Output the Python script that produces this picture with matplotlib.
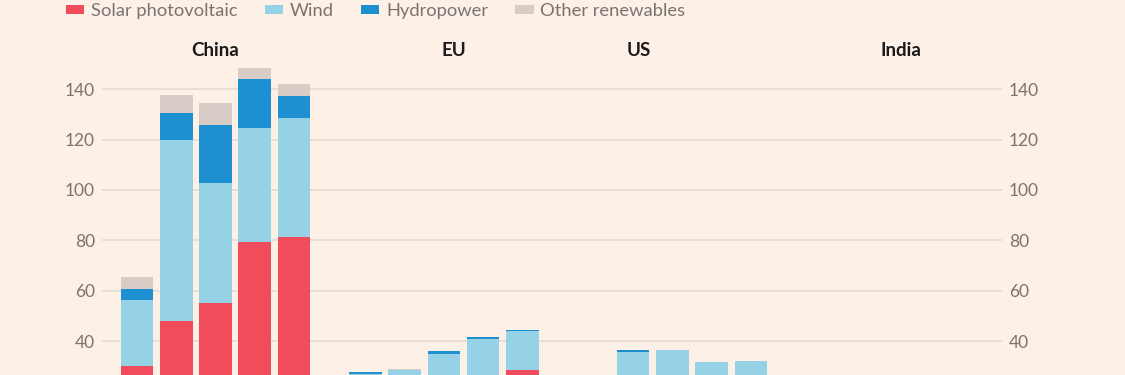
import numpy as np
import matplotlib
matplotlib.use("Agg")
import matplotlib.pyplot as plt

plt.rcParams['font.family'] = ['Lato', 'DejaVu Sans']

# Data (stacked segments per year, 5 bars per region)
regions = ["China", "EU", "US", "India"]
solar = {"China": [30.1, 48.1, 55.0, 79.2, 81.2],
         "EU":    [15.0, 17.0, 21.0, 25.0, 28.4],
         "US":    [10.0, 15.0, 13.0, 12.0, 13.0],
         "India": [8.0, 10.0, 12.0, 14.0, 15.0]}
wind = {"China": [26.2, 71.8, 47.6, 45.3, 47.3],
        "EU":    [12.0, 11.5, 13.7, 15.6, 15.4],
        "US":    [25.7, 21.4, 18.7, 20.2, 11.0],
        "India": [2.0, 1.5, 1.5, 2.0, 2.0]}
hydro = {"China": [4.2, 10.6, 23.2, 19.5, 8.9],
         "EU":    [0.6, 0.0, 1.3, 0.9, 0.4],
         "US":    [0.8, 0.0, 0.0, 0.0, 0.5],
         "India": [0.5, 0.5, 0.5, 0.5, 0.5]}
other = {"China": [4.8, 7.2, 8.9, 4.6, 4.5],
         "EU":    [0.0, 0.3, 0.0, 0.0, 0.2],
         "US":    [0.0, 0.0, 0.0, 0.0, 0.3],
         "India": [0.3, 0.3, 0.3, 0.3, 0.3]}
series = ["Solar photovoltaic", "Wind", "Hydropower", "Other renewables"]
colors = ["#F04C5C", "#96D2E6", "#1E8FD0", "#D8CCC6"]

bg = "#FDF0E6"
W, H = 1125, 375
fig = plt.figure(figsize=(W / 100, H / 100), dpi=100, facecolor=bg)

# axes box in pixels: x 102..1002, y from figure bottom up to y=60
ax = fig.add_axes([102 / W, 0, 900 / W, 315 / H], facecolor=bg)

# layout of groups (in bar slots)
group_start = {"China": 0.0, "EU": 5.82, "US": 12.64, "India": 17.6}
title_x = {"China": 215, "EU": 454, "US": 639, "India": 901}

handles = None
for reg in regions:
    x = group_start[reg] + np.arange(5)
    bottom = np.zeros(5)
    hs = []
    for vals, c in zip([solar[reg], wind[reg], hydro[reg], other[reg]], colors):
        v = np.array(vals)
        b = ax.bar(x, v, bottom=bottom, width=0.83, color=c, linewidth=0, zorder=3)
        hs.append(b)
        bottom += v
    if handles is None:
        handles = hs
    fig.text(title_x[reg] / W, 1 - 51 / H, reg, ha="center", va="center",
             fontsize=13.5, fontweight="bold", color="#1a1a1a")

# x range: first bar center at 137px -> 35px from axes left, pitch 39.25px
pitch = 39.25
x0 = -35 / pitch
ax.set_xlim(x0, x0 + 900 / pitch)
ax.set_ylim(26.5, 151.6)

ax.set_yticks([40, 60, 80, 100, 120, 140])
ax.yaxis.grid(True, color="#E6DBD1", linewidth=1.2, zorder=0)
ax.tick_params(axis="y", length=0, labelsize=12.5, labelcolor="#7A7470",
               left=True, right=True, labelleft=True, labelright=True, pad=5)
ax.tick_params(axis="x", length=0, labelbottom=False)
for s in ax.spines.values():
    s.set_visible(False)

leg = fig.legend(handles, series, loc="upper left",
                 bbox_to_anchor=(66 / W, 1 - 3 / H), ncol=4, frameon=False,
                 fontsize=13.2, handlelength=1.0, handleheight=0.35,
                 handletextpad=0.35, columnspacing=1.5, borderpad=0.0,
                 borderaxespad=0.0)
for t in leg.get_texts():
    t.set_color("#7A7470")

fig.savefig("out.png", dpi=100, facecolor=bg)
